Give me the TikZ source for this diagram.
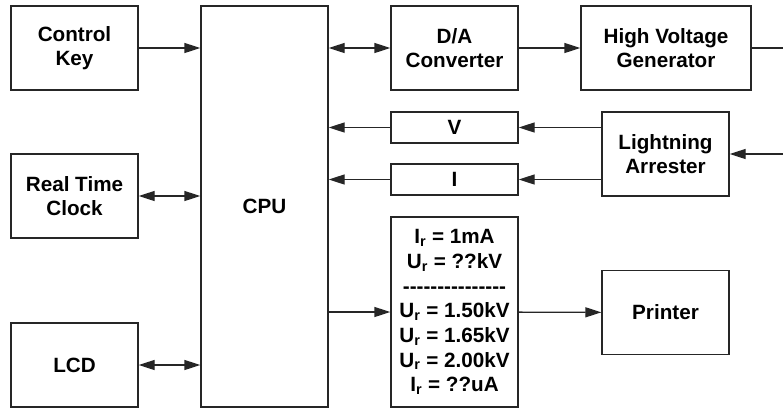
\documentclass[tikz,border=0pt]{standalone}
\usepackage{fontspec}
\setmainfont{Liberation Sans}
\usetikzlibrary{arrows.meta}

\newcommand{\hyphenrow}{\foreach \k in {1,...,15}{-}}

\begin{document}
\begin{tikzpicture}[
        x=0.75pt, y=-0.75pt,
        line width=1pt, draw=black!85,
        blk/.style={draw, fill=white, inner sep=0pt,
                    minimum width=95.25pt, minimum height=63pt,
                    align=center, font=\fontsize{15.5}{18.5}\selectfont\bfseries},
        slim/.style={blk, minimum height=23.25pt},
        arr/.style={-{Triangle[length=12pt,width=7.5pt]}},
        biarr/.style={{Triangle[length=12pt,width=7.5pt]}-{Triangle[length=12pt,width=7.5pt]}}
      ]
        \useasboundingbox (0,0) rectangle (783,408);

        % left column
        \node[blk] (ctrl) at (74.5,48) {Control\\Key};
        \node[blk] (rtc) at (74.5,196) {Real Time\\Clock};
        \node[blk] (lcd) at (74.5,365) {LCD};

        \node[blk, minimum height=300.75pt] (cpu) at (264.5,206.5) {CPU};

        % middle column
        \node[blk] (dac) at (454.5,48) {D/A\\Converter};
        \node[slim] (vmeas) at (454.5,127.5) {V};
        \node[slim] (imeas) at (454.5,179.5) {I};
        \node[blk, minimum height=142.5pt] (result) at (454.5,312)
          {I\textsubscript{r} = 1mA\\U\textsubscript{r} = ??kV\\\hyphenrow\\
           U\textsubscript{r} = 1.50kV\\U\textsubscript{r} = 1.65kV\\
           U\textsubscript{r} = 2.00kV\\I\textsubscript{r} = ??uA};

        % right column
        \node[blk, minimum width=127.5pt] (hvgen) at (666,48) {High Voltage\\Generator};
        \node[blk] (arrester) at (665.5,154) {Lightning\\Arrester};
        \node[blk] (printer) at (665.5,312.5) {Printer};

        \coordinate (hvout) at (783,48);
        \coordinate (sense) at (783,154);

        \draw[arr] (ctrl) -- (cpu.west |- ctrl);
        \draw[biarr] (rtc) -- (cpu.west |- rtc);
        \draw[biarr] (lcd) -- (cpu.west |- lcd);
        \draw[biarr] (cpu.east |- dac) -- (dac);
        \draw[arr] (dac) -- (hvgen);
        \draw (hvgen) -- (hvout);
        \draw[arr] (vmeas) -- (cpu.east |- vmeas);
        \draw[arr] (imeas) -- (cpu.east |- imeas);
        \draw[arr] (arrester.west |- vmeas) -- (vmeas);
        \draw[arr] (arrester.west |- imeas) -- (imeas);
        \draw[arr] (sense) -- (arrester);
        \draw[arr] (cpu.east |- result) -- (result);
        \draw[arr] (result) -- (printer);
      \end{tikzpicture}
\end{document}
